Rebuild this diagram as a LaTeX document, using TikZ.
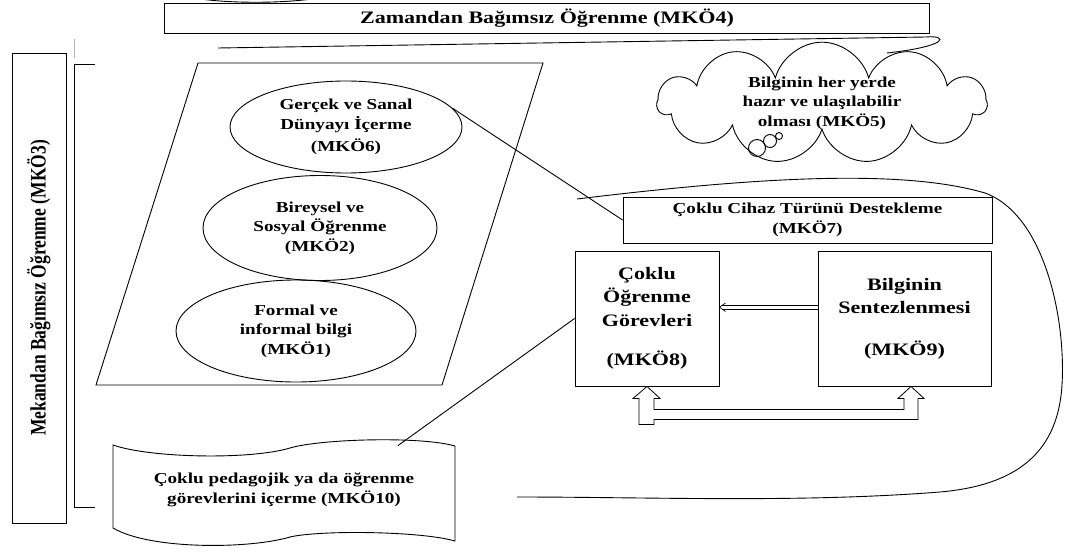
\documentclass[tikz,border=0pt]{standalone}
\usepackage{fontspec}
\setmainfont{Liberation Serif}[FakeStretch=1.26]
\newfontfamily\sideserif{Liberation Serif}
\usepackage{graphicx}
\usetikzlibrary{shapes.geometric,shapes.symbols}

\newcommand{\bigtxt}{\fontsize{17.5}{23.5}\selectfont\bfseries}
\newcommand{\smalltxt}{\fontsize{15.2}{19.5}\selectfont\bfseries}

\begin{document}
\begin{tikzpicture}[x=1pt, y=-1pt, line width=0.9pt,
    oval/.style={ellipse, draw, align=center, inner sep=0pt, font=\smalltxt},
    box/.style={rectangle, draw, align=center, inner sep=0pt, fill=white}]
\useasboundingbox (0,0) rectangle (1066,554);

% band behind the title
\draw (180,-6) .. controls (205,5) and (305,5) .. (335,-6);
\draw (218,48) -- (926,37) .. controls (948,35) and (950,46) .. (887,53);
\node[box, minimum width=765pt, minimum height=30pt, font=\bigtxt] (m4) at (547,18) {Zamandan Bağımsız Öğrenme (MKÖ4)};

% left side
\node[box, rotate=90, minimum width=470pt, minimum height=54pt,
      font=\sideserif\fontsize{17.5}{20}\selectfont\bfseries] (m3) at (39,288)
      {\scalebox{1}[1.26]{Mekandan Bağımsız Öğrenme (MKÖ3)}};
\draw[gray!60, line width=0.6pt] (74,39) -- (74,58);
\draw (95,64) -- (74,64) -- (74,507) -- (95,507);

% parallelogram with the three ovals
\draw (198,63) -- (543,63) -- (442,385) -- (96,385) -- cycle;
\node[oval, minimum width=232pt, minimum height=92pt] (m6) at (346,127) {Gerçek ve Sanal\\Dünyayı İçerme\\[3pt](MKÖ6)};
\node[oval, minimum width=234pt, minimum height=105pt] (m2) at (320,228) {Bireysel ve\\Sosyal Öğrenme\\(MKÖ2)};
\node[oval, minimum width=240pt, minimum height=102pt] (m1) at (296,331) {Formal ve\\informal bilgi\\(MKÖ1)};

% cloud
\node[cloud, draw, cloud puffs=11, aspect=3.1, minimum width=329pt, minimum height=107pt,
      align=center, inner sep=0pt, font=\smalltxt] (m5) at (822,103)
      {Bilginin her yerde\\hazır ve ulaşılabilir\\olması (MKÖ5)};
\draw (757,148) circle (8.5);
\draw (770,141) circle (6.5);
\draw (779,136) circle (3.5);

% outline round the boxes
\draw (577,199) .. controls (750,178) and (900,168) .. (985,193)
      .. controls (1045,215) and (1066,320) .. (1062,385)
      .. controls (1058,450) and (1020,485) .. (940,492)
      .. controls (800,503) and (650,497) .. (517,497);

\node[box, minimum width=369pt, minimum height=46pt, font=\smalltxt] (m7) at (807.5,220) {Çoklu Cihaz Türünü Destekleme\\(MKÖ7)};
\node[box, minimum width=144pt, minimum height=135pt, font=\bigtxt] (m8) at (647,318.5) {Çoklu\\Öğrenme\\Görevleri\\[16pt](MKÖ8)};
\node[box, minimum width=173pt, minimum height=135pt, font=\bigtxt] (m9) at (904.5,318.5) {Bilginin\\Sentezlenmesi\\[18pt](MKÖ9)};

% tape
\draw (113,445) .. controls (150,458) and (250,460) .. (290,448)
      .. controls (320,439) and (420,436) .. (455,446) -- (455,541)
      .. controls (420,531) and (320,530) .. (290,537)
      .. controls (250,549) and (150,550) .. (113,528) -- cycle;
\node[minimum width=342pt, minimum height=96pt, inner sep=0pt, align=center, font=\smalltxt] (m10) at (284,490)
      {Çoklu pedagojik ya da öğrenme\\görevlerini içerme (MKÖ10)};

% connectors
\draw (m6.10) -- (m7.west);
\draw ([xshift=114pt, yshift=-4pt]m10.north) -- (m8.west);
\draw ([yshift=13pt]m9.west) -- ([xshift=3pt, yshift=13pt]m8.east);
\draw ([yshift=9.5pt]m9.west) -- ([xshift=3pt, yshift=9.5pt]m8.east);
\draw[line width=0.7pt] ([xshift=6pt, yshift=15.5pt]m8.east) -- ([yshift=11.25pt]m8.east) -- ([xshift=6pt, yshift=7pt]m8.east);
\draw[line width=0.8pt] (m8.south) -- ++(13,12) -- ++(-6,0) -- ++(0,11) -- ++(250,0) -- ++(0,-11)
      -- ++(-6,0) -- ++(13,-12) -- ++(13,12) -- ++(-6,0) -- ++(0,21) -- ++(-264,0)
      -- ++(0,5) -- ++(-15,0) -- ++(0,-26) -- ++(-6,0) -- cycle;
\end{tikzpicture}
\end{document}
